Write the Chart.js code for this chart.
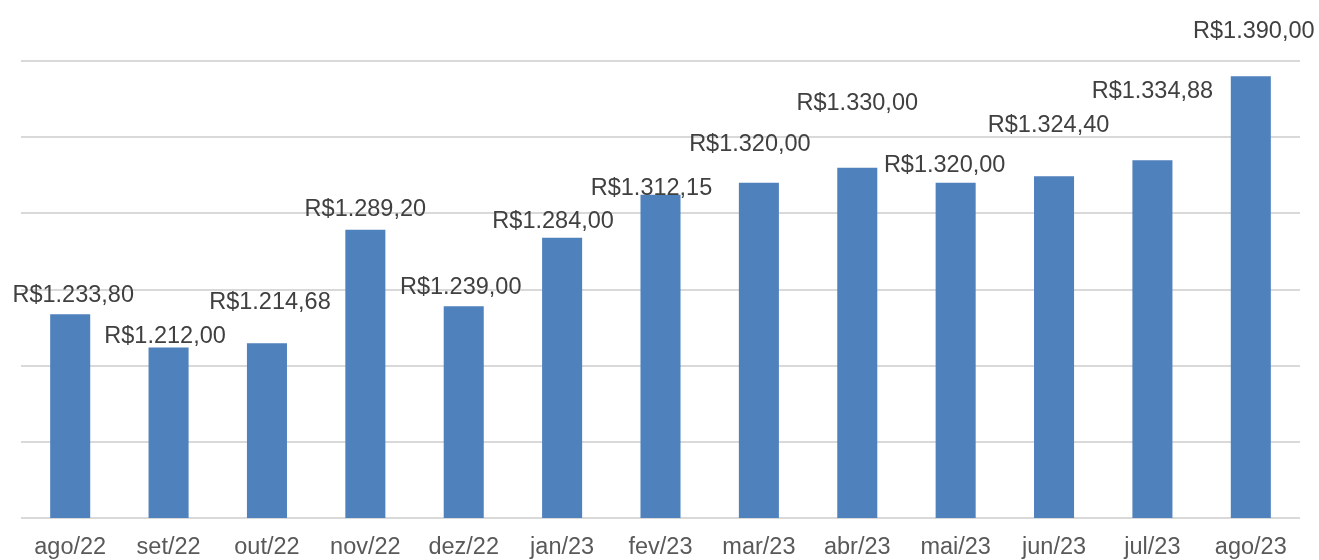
<!DOCTYPE html>
<html>
<head>
<meta charset="utf-8">
<script src="https://cdn.jsdelivr.net/npm/chart.js@4"></script>
<style>
  html, body { margin: 0; padding: 0; background: #fff; }
  .wrap { width: 1319px; height: 560px; position: relative; }
</style>
</head>
<body>
<div class="wrap"><canvas id="chart"></canvas></div>
<script>
const months = ['ago/22', 'set/22', 'out/22', 'nov/22', 'dez/22', 'jan/23', 'fev/23',
                'mar/23', 'abr/23', 'mai/23', 'jun/23', 'jul/23', 'ago/23'];
const prices = [1233.80, 1212.00, 1214.68, 1289.20, 1239.00, 1284.00, 1312.15,
                1320.00, 1330.00, 1320.00, 1324.40, 1334.88, 1390.00];

// where each value label sits relative to the top of its bar (px), as in the original
const labelShift = [[3, -21], [-3.5, -13], [3, -42.5], [0, -22], [-3, -20.5], [-9, -18], [-9, -8],
                    [-9, -40], [0, -66], [-11, -19], [-5.5, -52.5], [0, -70.5], [3, -47]];

const FONT = '"Liberation Sans", Arial, sans-serif';

function brl(v) {
    const parts = v.toFixed(2).split('.');
    const int = parts[0].replace(/\B(?=(\d{3})+(?!\d))/g, '.');
    return 'R$' + int + ',' + parts[1];
}

const valueLabels = {
    id: 'valueLabels',
    afterDatasetsDraw(chart) {
        const ctx = chart.ctx;
        const meta = chart.getDatasetMeta(0);
        ctx.save();
        ctx.font = '23.5px ' + FONT;
        ctx.fillStyle = '#404040';
        ctx.textAlign = 'center';
        ctx.textBaseline = 'alphabetic';
        meta.data.forEach((bar, i) => {
            const s = labelShift[i];
            ctx.fillText(brl(prices[i]), bar.x + s[0], bar.y + s[1] + 8.4);
        });
        ctx.restore();
    }
};

new Chart(document.getElementById('chart'), {
    type: 'bar',
    data: {
        labels: months,
        datasets: [{
            data: prices,
            backgroundColor: '#4F81BD',
            barPercentage: 0.407,
            categoryPercentage: 1
        }]
    },
    options: {
        responsive: true,
        maintainAspectRatio: false,
        animation: false,
        layout: { padding: { left: 21, right: 19, top: 61, bottom: 0 } },
        plugins: {
            legend: { display: false },
            tooltip: { enabled: false }
        },
        scales: {
            x: {
                grid: { display: false },
                border: { display: false },
                ticks: {
                    color: '#595959',
                    font: { family: FONT, size: 23.5 },
                    padding: 7,
                    maxRotation: 0,
                    autoSkip: false
                },
                afterFit(scale) { scale.height = 42; }
            },
            y: {
                min: 1100,
                max: 1400,
                ticks: { display: false, stepSize: 50 },
                grid: { color: '#D9D9D9', lineWidth: 2, drawTicks: false },
                border: { display: false },
                afterFit(scale) { scale.width = 0; }
            }
        }
    },
    plugins: [valueLabels]
});
</script>
</body>
</html>
